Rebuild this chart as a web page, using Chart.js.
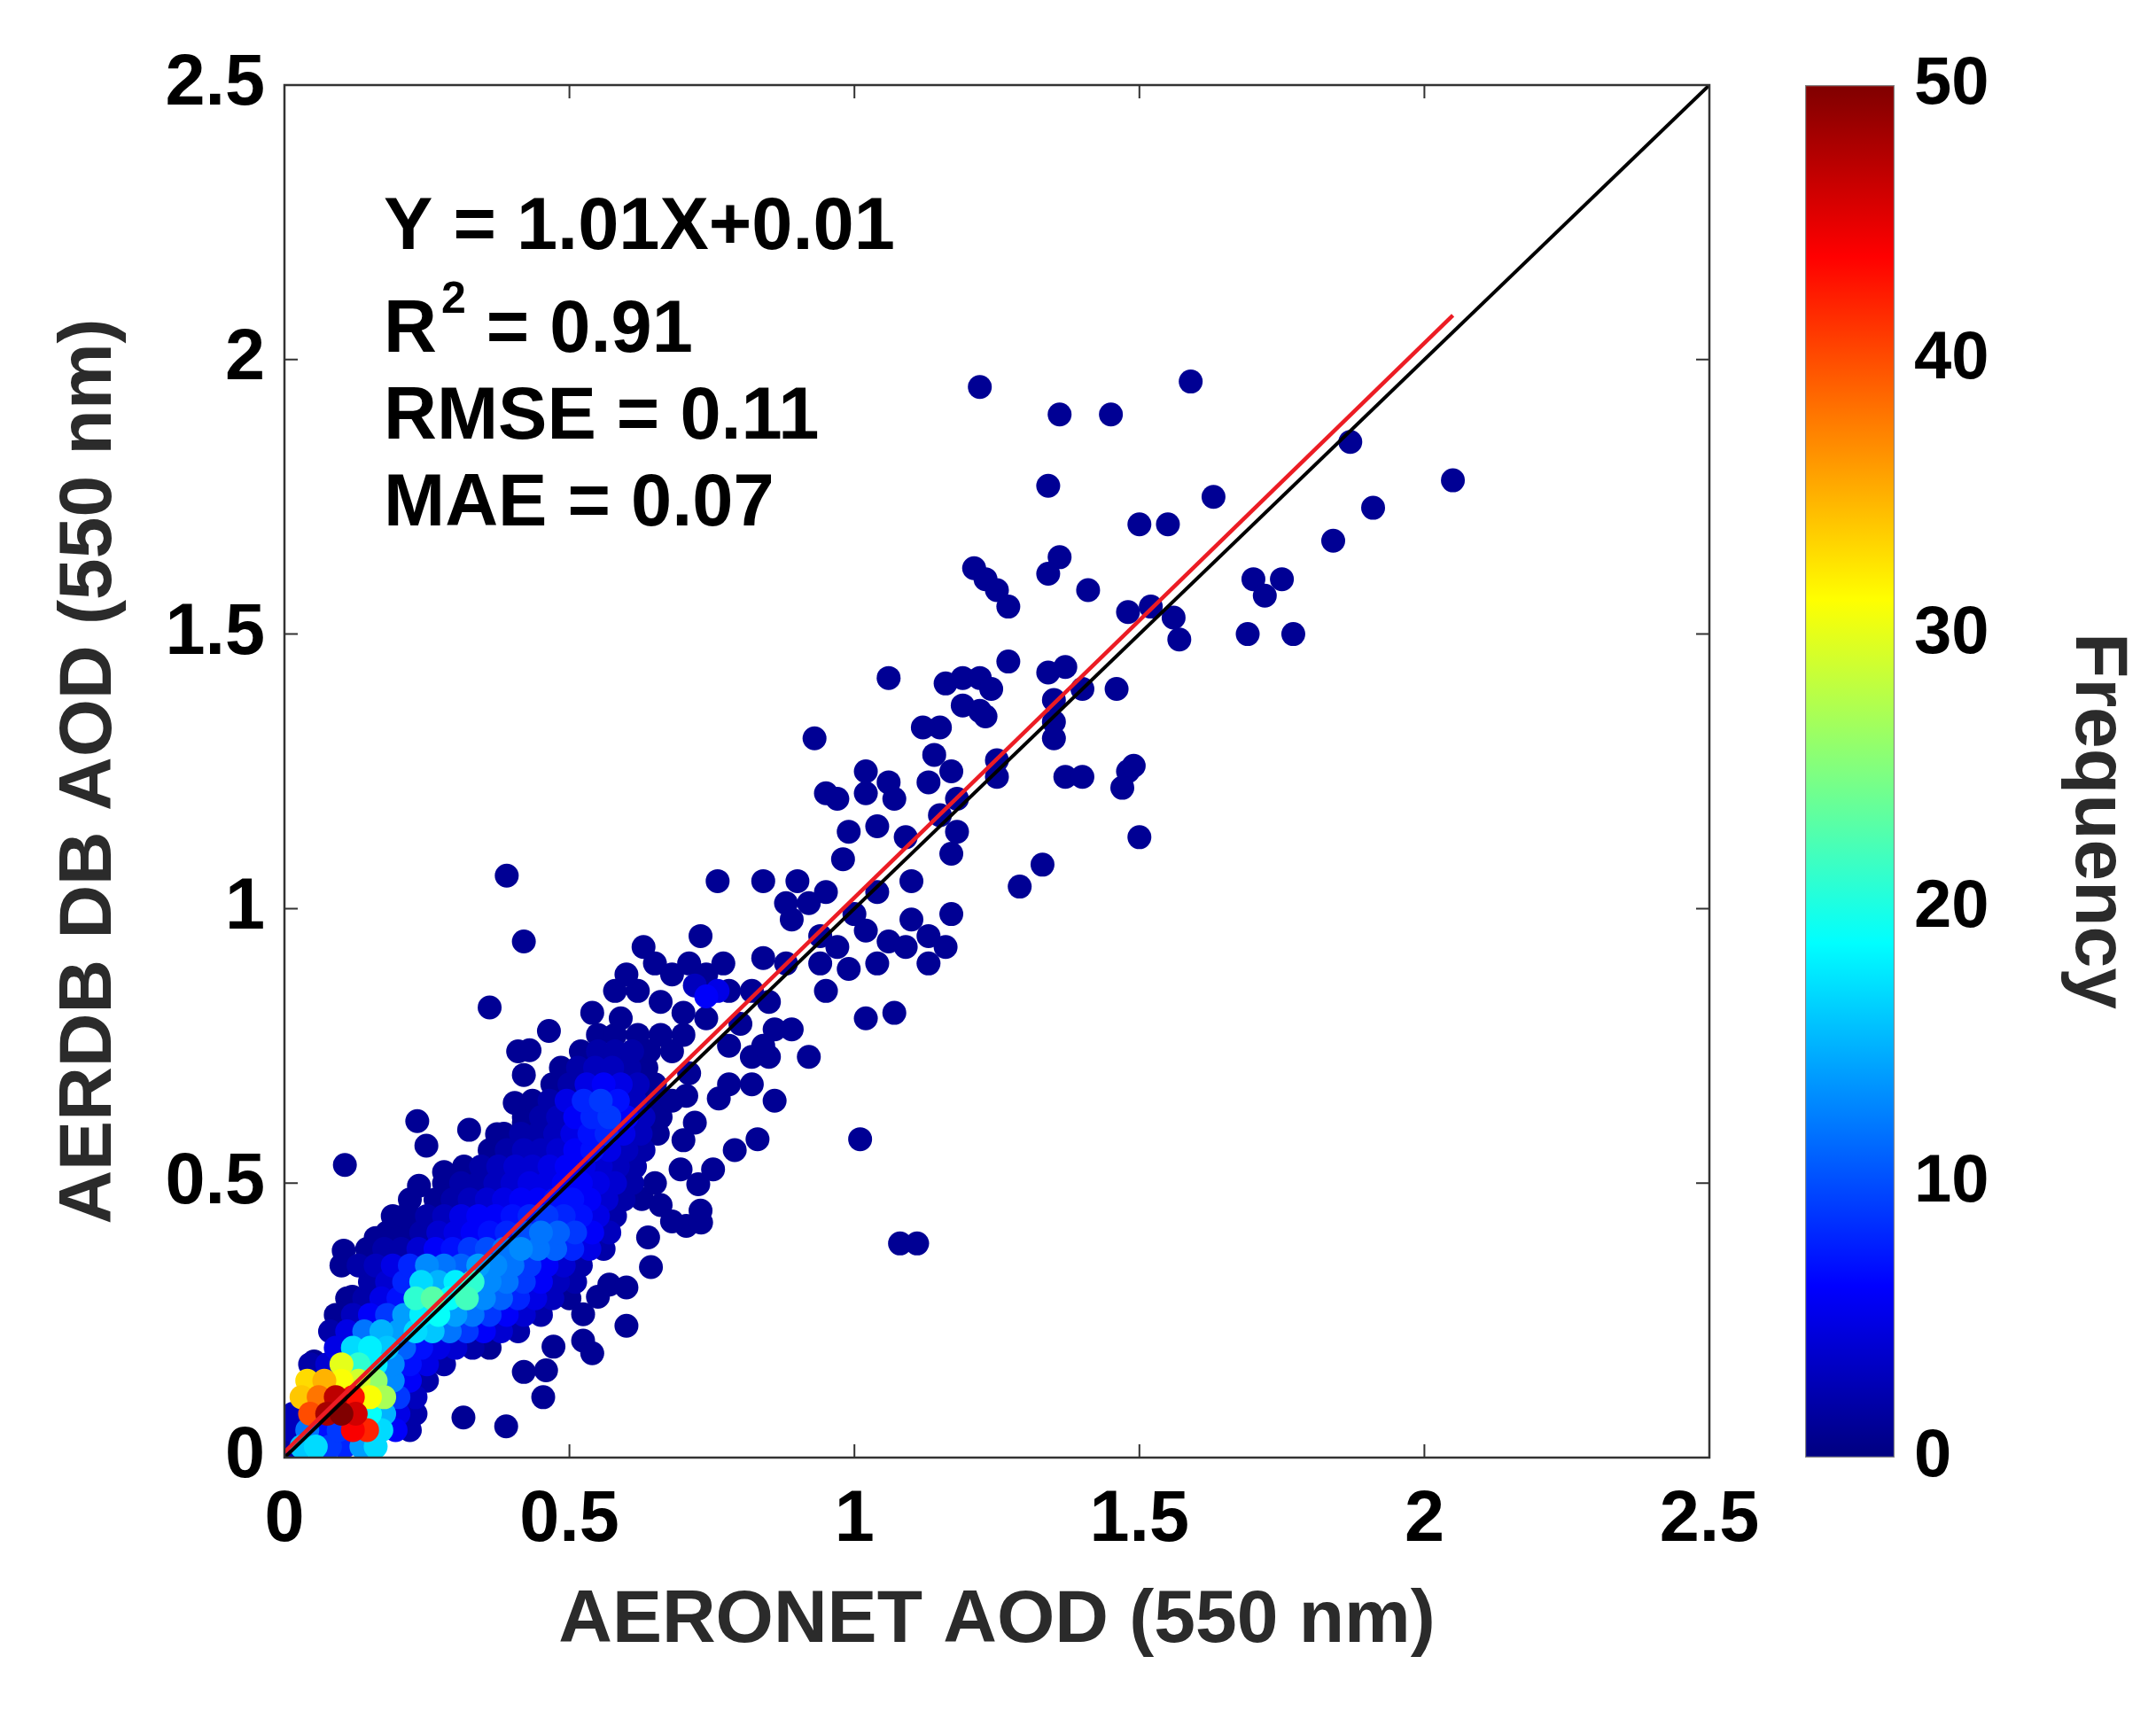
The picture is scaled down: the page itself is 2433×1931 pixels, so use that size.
<!DOCTYPE html>
<html>
<head>
<meta charset="utf-8">
<title>AERDB DB AOD vs AERONET AOD</title>
<script src="https://cdn.jsdelivr.net/npm/chart.js@4.4.1/dist/chart.umd.min.js"></script>
<style>
  html, body { margin: 0; padding: 0; background: #fff; }
  #wrap { position: relative; width: 2433px; height: 1931px; }
  #wrap canvas { position: absolute; left: 0; top: 0; }
</style>
</head>
<body>
<div id="wrap">
  <canvas id="scatterChart" width="2433" height="1931"></canvas>
  <canvas id="colorbarChart" width="2433" height="1931"></canvas>
</div>
<script>
// ---- data: [AERONET AOD, AERDB DB AOD, frequency] ----

// dense band along the 1:1 line, one row per line (bottom to top)
const coreBand = [
  [0.010, 0.02, 2], [0.030, 0.02, 16], [0.055, 0.02, 17], [0.080, 0.02, 9], [0.105, 0.02, 8], [0.135, 0.02, 14], [0.160, 0.02, 17],
  [0.012, 0.05, 3], [0.040, 0.05, 12], [0.070, 0.05, 7], [0.095, 0.05, 9], [0.120, 0.05, 44], [0.145, 0.05, 42], [0.170, 0.05, 17], [0.195, 0.05, 6], [0.220, 0.05, 2],
  [0.015, 0.08, 3], [0.045, 0.08, 40], [0.075, 0.08, 48], [0.100, 0.08, 50], [0.125, 0.08, 46], [0.150, 0.08, 19], [0.175, 0.08, 15], [0.200, 0.08, 5], [0.230, 0.08, 2],
  [0.030, 0.11, 34], [0.060, 0.11, 38], [0.090, 0.11, 47], [0.120, 0.11, 43], [0.150, 0.11, 31], [0.175, 0.11, 27], [0.200, 0.11, 9], [0.230, 0.11, 3],
  [0.040, 0.14, 33], [0.070, 0.14, 35], [0.100, 0.14, 31], [0.130, 0.14, 29], [0.160, 0.14, 26], [0.190, 0.14, 13], [0.220, 0.14, 6], [0.250, 0.14, 2],
  [0.045, 0.17, 2], [0.075, 0.17, 4], [0.100, 0.17, 30], [0.130, 0.17, 21], [0.160, 0.17, 18], [0.190, 0.17, 13], [0.220, 0.17, 7], [0.250, 0.17, 5], [0.280, 0.17, 2],
  [0.09, 0.20, 5], [0.12, 0.20, 17], [0.15, 0.20, 18], [0.18, 0.20, 16], [0.21, 0.20, 11], [0.24, 0.20, 7], [0.27, 0.20, 5], [0.30, 0.20, 4], [0.33, 0.20, 2], [0.36, 0.20, 1],
  [0.08, 0.23, 2], [0.11, 0.23, 5], [0.14, 0.23, 12], [0.17, 0.23, 15], [0.20, 0.23, 14], [0.23, 0.23, 17], [0.26, 0.23, 16], [0.29, 0.23, 12], [0.32, 0.23, 9], [0.35, 0.23, 6], [0.38, 0.23, 4], [0.41, 0.23, 2],
  [0.09, 0.26, 1], [0.12, 0.26, 3], [0.15, 0.26, 6], [0.18, 0.26, 9], [0.21, 0.26, 14], [0.24, 0.26, 18], [0.27, 0.26, 19], [0.30, 0.26, 14], [0.33, 0.26, 12], [0.36, 0.26, 9], [0.39, 0.26, 6], [0.42, 0.26, 4], [0.45, 0.26, 2],
  [0.11, 0.29, 1], [0.14, 0.29, 2], [0.17, 0.29, 5], [0.20, 0.29, 7], [0.23, 0.29, 21], [0.26, 0.29, 23], [0.29, 0.29, 19], [0.32, 0.29, 22], [0.35, 0.29, 13], [0.38, 0.29, 11], [0.41, 0.29, 8], [0.44, 0.29, 5], [0.47, 0.29, 3], [0.50, 0.29, 1],
  [0.15, 0.32, 2], [0.18, 0.32, 4], [0.21, 0.32, 8], [0.24, 0.32, 17], [0.27, 0.32, 15], [0.30, 0.32, 18], [0.33, 0.32, 21], [0.36, 0.32, 13], [0.39, 0.32, 12], [0.42, 0.32, 9], [0.45, 0.32, 6], [0.48, 0.32, 3], [0.51, 0.32, 2],
  [0.10, 0.35, 1], [0.13, 0.35, 2], [0.16, 0.35, 3], [0.19, 0.35, 5], [0.22, 0.35, 8], [0.25, 0.35, 13], [0.28, 0.35, 12], [0.31, 0.35, 11], [0.34, 0.35, 14], [0.37, 0.35, 13], [0.40, 0.35, 12], [0.43, 0.35, 9], [0.46, 0.35, 6], [0.49, 0.35, 4], [0.52, 0.35, 2],
  [0.145, 0.38, 1], [0.175, 0.38, 2], [0.205, 0.38, 2], [0.235, 0.38, 4], [0.265, 0.38, 6], [0.295, 0.38, 7], [0.325, 0.38, 9], [0.355, 0.38, 10], [0.385, 0.38, 12], [0.415, 0.38, 13], [0.445, 0.38, 12], [0.475, 0.38, 11], [0.505, 0.38, 8], [0.535, 0.38, 5], [0.56, 0.38, 2],
  [0.18, 0.41, 1], [0.21, 0.41, 1], [0.24, 0.41, 2], [0.27, 0.41, 4], [0.30, 0.41, 5], [0.33, 0.41, 6], [0.36, 0.41, 7], [0.39, 0.41, 8], [0.42, 0.41, 10], [0.45, 0.41, 12], [0.48, 0.41, 11], [0.51, 0.41, 9], [0.54, 0.41, 6], [0.57, 0.41, 3],
  [0.19, 0.44, 1], [0.22, 0.44, 1], [0.25, 0.44, 2], [0.28, 0.44, 3], [0.31, 0.44, 5], [0.34, 0.44, 6], [0.37, 0.44, 6], [0.40, 0.44, 7], [0.43, 0.44, 8], [0.46, 0.44, 9], [0.49, 0.44, 8], [0.52, 0.44, 7], [0.55, 0.44, 5], [0.58, 0.44, 2],
  [0.22, 0.47, 1], [0.265, 0.47, 1], [0.295, 0.47, 2], [0.325, 0.47, 3], [0.355, 0.47, 4], [0.385, 0.47, 5], [0.415, 0.47, 6], [0.445, 0.47, 6], [0.475, 0.47, 7], [0.505, 0.47, 7], [0.535, 0.47, 6], [0.565, 0.47, 4], [0.595, 0.47, 2],
  [0.28, 0.50, 1], [0.31, 0.50, 2], [0.34, 0.50, 2], [0.37, 0.50, 3], [0.40, 0.50, 4], [0.43, 0.50, 5], [0.46, 0.50, 5], [0.49, 0.50, 6], [0.52, 0.50, 6], [0.55, 0.50, 5], [0.58, 0.50, 4], [0.61, 0.50, 2],
  [0.315, 0.53, 1], [0.345, 0.53, 2], [0.375, 0.53, 3], [0.405, 0.53, 4], [0.435, 0.53, 4], [0.465, 0.53, 5], [0.495, 0.53, 6], [0.525, 0.53, 5], [0.555, 0.53, 4], [0.585, 0.53, 3], [0.615, 0.53, 2],
  [0.36, 0.56, 1], [0.39, 0.56, 2], [0.42, 0.56, 3], [0.45, 0.56, 3], [0.48, 0.56, 4], [0.51, 0.56, 6], [0.54, 0.56, 7], [0.57, 0.56, 5], [0.60, 0.56, 3], [0.63, 0.56, 2],
  [0.385, 0.59, 1], [0.415, 0.59, 2], [0.445, 0.59, 2], [0.475, 0.59, 3], [0.505, 0.59, 5], [0.535, 0.59, 7], [0.565, 0.59, 8], [0.595, 0.59, 5], [0.625, 0.59, 3], [0.655, 0.59, 1],
  [0.42, 0.62, 1], [0.45, 0.62, 2], [0.48, 0.62, 3], [0.51, 0.62, 6], [0.54, 0.62, 8], [0.57, 0.62, 9], [0.60, 0.62, 6], [0.63, 0.62, 3], [0.66, 0.62, 1],
  [0.435, 0.65, 1], [0.465, 0.65, 2], [0.495, 0.65, 5], [0.525, 0.65, 8], [0.555, 0.65, 9], [0.585, 0.65, 7], [0.615, 0.65, 3], [0.645, 0.65, 1],
  [0.47, 0.68, 1], [0.50, 0.68, 2], [0.53, 0.68, 5], [0.56, 0.68, 6], [0.59, 0.68, 5], [0.62, 0.68, 3], [0.65, 0.68, 1],
  [0.485, 0.71, 1], [0.515, 0.71, 2], [0.545, 0.71, 3], [0.575, 0.71, 3], [0.605, 0.71, 2], [0.635, 0.71, 1],
  [0.52, 0.74, 1], [0.55, 0.74, 2], [0.58, 0.74, 2], [0.61, 0.74, 2], [0.64, 0.74, 1], [0.68, 0.74, 1],
  [0.55, 0.77, 1], [0.58, 0.77, 1], [0.62, 0.77, 1], [0.66, 0.77, 1], [0.70, 0.77, 1]
];

// scattered points above the band (DB overestimates)
const upperLeftScatter = [
  [0.106, 0.533, 1], [0.104, 0.377, 1], [0.119, 0.293, 1], [0.093, 0.250, 1], [0.052, 0.175, 1],
  [0.233, 0.613, 1], [0.249, 0.568, 1], [0.236, 0.495, 1], [0.280, 0.520, 1], [0.324, 0.597, 1],
  [0.373, 0.589, 1], [0.404, 0.646, 1], [0.420, 0.697, 1], [0.430, 0.742, 1], [0.464, 0.777, 1],
  [0.210, 0.440, 1], [0.160, 0.400, 1], [0.140, 0.350, 1], [0.420, 0.610, 1], [0.410, 0.740, 1],
  [0.390, 1.060, 1], [0.420, 0.940, 1], [0.360, 0.820, 1],
  [0.54, 0.81, 1], [0.59, 0.80, 1], [0.62, 0.85, 1], [0.65, 0.90, 1], [0.68, 0.88, 1], [0.71, 0.90, 1],
  [0.73, 0.95, 1], [0.66, 0.83, 1], [0.70, 0.81, 1], [0.74, 0.80, 1], [0.60, 0.88, 1], [0.58, 0.85, 1],
  [0.63, 0.93, 1], [0.72, 0.86, 3], [0.74, 0.84, 6], [0.76, 0.85, 5]
];

// scattered points below the band (DB underestimates)
const lowerRightScatter = [
  [0.213, 0.062, 1], [0.314, 0.073, 1], [0.389, 0.057, 1], [0.420, 0.156, 1], [0.459, 0.159, 1],
  [0.454, 0.110, 1], [0.472, 0.202, 1], [0.524, 0.213, 1], [0.524, 0.261, 1], [0.550, 0.293, 1],
  [0.570, 0.315, 1], [0.600, 0.310, 1], [0.643, 0.347, 1], [0.638, 0.401, 1], [0.705, 0.422, 1],
  [0.731, 0.428, 1], [0.627, 0.471, 1], [0.695, 0.525, 1], [0.726, 0.498, 1], [0.752, 0.525, 1],
  [0.762, 0.654, 1], [0.705, 0.659, 1], [0.700, 0.578, 1], [0.650, 0.500, 1], [0.660, 0.460, 1],
  [0.540, 0.190, 1], [0.600, 0.240, 1], [0.680, 0.430, 1], [0.730, 0.450, 1], [0.720, 0.610, 1],
  [0.86, 0.65, 1], [0.82, 0.68, 1], [0.78, 0.68, 1], [0.79, 0.56, 1], [0.83, 0.58, 1],
  [0.68, 0.65, 1], [0.71, 0.70, 1], [1.08, 0.39, 1], [1.11, 0.39, 1], [1.01, 0.58, 1],
  [0.92, 0.73, 1], [0.85, 0.73, 1], [0.82, 0.73, 1], [0.78, 0.75, 1], [0.84, 0.75, 1],
  [0.86, 0.78, 1], [0.89, 0.78, 1], [0.80, 0.79, 1], [0.82, 0.85, 1], [0.85, 0.83, 1],
  [0.77, 0.90, 1], [0.74, 0.88, 1], [0.78, 0.85, 1]
];

// sparse points at high aerosol loading
const highAodScatter = [
  [1.22, 1.95, 1], [1.59, 1.96, 1], [1.36, 1.90, 1], [1.45, 1.90, 1], [1.87, 1.85, 1], [2.05, 1.78, 1],
  [1.34, 1.77, 1], [1.63, 1.75, 1], [1.91, 1.73, 1], [1.84, 1.67, 1], [1.50, 1.70, 1], [1.55, 1.70, 1],
  [1.21, 1.62, 1], [1.23, 1.60, 1], [1.25, 1.58, 1], [1.27, 1.55, 1], [1.36, 1.64, 1], [1.34, 1.61, 1],
  [1.41, 1.58, 1], [1.70, 1.60, 1], [1.72, 1.57, 1], [1.75, 1.60, 1], [1.69, 1.50, 1], [1.77, 1.50, 1],
  [1.56, 1.53, 1], [1.57, 1.49, 1], [1.48, 1.54, 1], [1.52, 1.55, 1],
  [1.27, 1.45, 1], [1.34, 1.43, 1], [1.37, 1.44, 1], [1.40, 1.40, 1], [1.46, 1.40, 1], [1.35, 1.38, 1],
  [1.35, 1.34, 1], [1.35, 1.31, 1], [1.19, 1.42, 1], [1.22, 1.42, 1], [1.24, 1.40, 1], [1.16, 1.41, 1],
  [1.19, 1.37, 1], [1.22, 1.36, 1], [1.15, 1.33, 1], [1.12, 1.33, 1], [1.06, 1.42, 1], [1.48, 1.25, 1],
  [1.49, 1.26, 1], [1.47, 1.22, 1], [1.37, 1.24, 1], [1.40, 1.24, 1], [1.50, 1.13, 1], [1.33, 1.08, 1],
  [1.29, 1.04, 1],
  [0.93, 1.31, 1], [0.95, 1.21, 1], [0.97, 1.20, 1], [0.99, 1.14, 1], [1.02, 1.25, 1], [1.02, 1.21, 1],
  [1.04, 1.15, 1], [1.06, 1.23, 1], [1.07, 1.20, 1], [1.09, 1.13, 1], [1.14, 1.28, 1], [1.17, 1.25, 1],
  [1.13, 1.23, 1], [1.18, 1.20, 1], [1.15, 1.17, 1], [1.18, 1.14, 1], [1.23, 1.35, 1], [1.25, 1.27, 1],
  [1.17, 1.10, 1], [1.10, 1.05, 1], [1.04, 1.03, 1], [0.98, 1.09, 1], [1.25, 1.24, 1],
  [0.76, 1.05, 1], [0.84, 1.05, 1], [0.90, 1.05, 1], [0.92, 1.01, 1], [0.95, 1.03, 1], [0.88, 1.01, 1],
  [0.89, 0.98, 1], [0.94, 0.95, 1], [0.97, 0.93, 1], [0.99, 0.89, 1], [1.00, 0.99, 1], [1.02, 0.96, 1],
  [1.06, 0.94, 1], [1.04, 0.90, 1], [1.09, 0.93, 1], [1.13, 0.95, 1], [1.10, 0.98, 1], [1.17, 0.99, 1],
  [1.13, 0.90, 1], [1.16, 0.93, 1], [1.02, 0.80, 1], [1.07, 0.81, 1], [0.94, 0.90, 1], [0.88, 0.90, 1],
  [0.84, 0.91, 1], [0.95, 0.85, 1]
];

const axisTicks = [0, 0.5, 1, 1.5, 2, 2.5];
const colorbarTicks = [0, 10, 20, 30, 40, 50];
const colorbarLabel = 'Frequency';

// regression statistics printed on the figure
const fitSlope = 1.01;
const fitIntercept = 0.01;
const fitEndX = 2.05;
const rSquared = 0.91;
const rmse = 0.11;
const mae = 0.07;

// ---- styling ----
const FONT = '"Liberation Sans", Arial, Helvetica, sans-serif';
const FREQ_MAX = colorbarTicks[colorbarTicks.length - 1];
const TICK_LEN = 15;
Chart.defaults.font.family = FONT;

// MATLAB jet colormap, t in [0, 1]
function jet(t) {
  const c = v => Math.round(255 * Math.max(0, Math.min(1, v)));
  return `rgb(${c(1.5 - Math.abs(4 * t - 3))},${c(1.5 - Math.abs(4 * t - 2))},${c(1.5 - Math.abs(4 * t - 1))})`;
}

function jetGradient(chart) {
  const area = chart.chartArea;
  if (!area) return jet(0);
  const g = chart.ctx.createLinearGradient(0, area.bottom, 0, area.top);
  for (let i = 0; i <= 64; i++) g.addColorStop(i / 64, jet(i / 64));
  return g;
}

// draw low frequencies first so dense cells end up on top
const points = [...coreBand, ...upperLeftScatter, ...lowerRightScatter, ...highAodScatter]
  .slice().sort((a, b) => a[2] - b[2]);

const noClip = { left: 0, top: 0, right: 0, bottom: 0 };

// closed box with inward ticks on all four sides
const axesBox = {
  id: 'axesBox',
  afterDatasetsDraw(chart) {
    const { ctx, chartArea: { left, right, top, bottom }, scales: { x, y } } = chart;
    ctx.save();
    ctx.strokeStyle = '#333';
    ctx.lineWidth = 2.5;
    ctx.strokeRect(left, top, right - left, bottom - top);
    ctx.beginPath();
    axisTicks.forEach(v => {
      const px = x.getPixelForValue(v);
      ctx.moveTo(px, bottom); ctx.lineTo(px, bottom - TICK_LEN);
      ctx.moveTo(px, top); ctx.lineTo(px, top + TICK_LEN);
      const py = y.getPixelForValue(v);
      ctx.moveTo(left, py); ctx.lineTo(left + TICK_LEN, py);
      ctx.moveTo(right, py); ctx.lineTo(right - TICK_LEN, py);
    });
    ctx.lineWidth = 2;
    ctx.stroke();
    ctx.restore();
  }
};

// regression text in the upper-left corner
const statsText = {
  id: 'statsText',
  afterDraw(chart) {
    const { ctx, chartArea } = chart;
    const x0 = chartArea.left + 112;
    const t = chartArea.top;
    ctx.save();
    ctx.fillStyle = '#000';
    ctx.textAlign = 'left';
    ctx.textBaseline = 'alphabetic';
    ctx.font = `bold 83px ${FONT}`;
    ctx.fillText(`Y = ${fitSlope.toFixed(2)}X+${fitIntercept.toFixed(2)}`, x0, t + 185);
    ctx.fillText('R', x0, t + 301);
    const rw = ctx.measureText('R').width;
    ctx.font = `bold 50px ${FONT}`;
    ctx.fillText('2', x0 + rw + 5, t + 257);
    const sw = ctx.measureText('2').width;
    ctx.font = `bold 83px ${FONT}`;
    ctx.fillText(` = ${rSquared.toFixed(2)}`, x0 + rw + sw + 5, t + 301);
    ctx.fillText(`RMSE = ${rmse.toFixed(2)}`, x0, t + 399);
    ctx.fillText(`MAE = ${mae.toFixed(2)}`, x0, t + 497);
    ctx.restore();
  }
};

// colour-bar label, rotated to read top to bottom, sitting a little below centre as in the figure
const colorbarTitle = {
  id: 'colorbarTitle',
  afterDraw(chart) {
    const { ctx, chartArea } = chart;
    const yScale = chart.scales.y;
    ctx.save();
    ctx.translate(yScale.right - 67, (chartArea.top + chartArea.bottom) / 2 + 56);
    ctx.rotate(Math.PI / 2);
    ctx.fillStyle = '#2b2b2b';
    ctx.font = `bold 84px ${FONT}`;
    ctx.textAlign = 'center';
    ctx.textBaseline = 'middle';
    ctx.fillText(colorbarLabel, 0, 0);
    ctx.restore();
  }
};

const tickFont = { size: 81, weight: 'bold' };
const titleFont = { size: 84, weight: 'bold' };

new Chart(document.getElementById('scatterChart'), {
  type: 'scatter',
  data: {
    datasets: [
      {
        label: 'Fit',
        data: [
          { x: 0, y: fitIntercept },
          { x: fitEndX, y: fitSlope * fitEndX + fitIntercept }
        ],
        showLine: true,
        borderColor: '#ec1c24',
        borderWidth: 4.5,
        pointRadius: 0,
        clip: noClip,
        order: 0
      },
      {
        label: '1:1',
        data: [{ x: 0, y: 0 }, { x: 2.5, y: 2.5 }],
        showLine: true,
        borderColor: '#000',
        borderWidth: 4,
        pointRadius: 0,
        clip: noClip,
        order: 1
      },
      {
        label: 'AOD',
        data: points.map(([x, y]) => ({ x, y })),
        backgroundColor: points.map(p => jet(p[2] / FREQ_MAX)),
        borderWidth: 0,
        pointRadius: 13.5,
        pointHoverRadius: 13.5,
        clip: noClip,
        order: 2
      }
    ]
  },
  options: {
    responsive: false,
    animation: false,
    events: [],
    layout: { padding: { left: 0, top: 96, right: 504, bottom: 0 } },
    plugins: { legend: { display: false }, tooltip: { enabled: false } },
    scales: {
      x: {
        type: 'linear', min: 0, max: 2.5,
        afterBuildTicks: s => { s.ticks = axisTicks.map(v => ({ value: v })); },
        ticks: { callback: v => String(v), font: tickFont, color: '#000', padding: 23, maxRotation: 0, autoSkip: false },
        grid: { display: false, drawTicks: false },
        border: { display: false },
        title: { display: true, text: 'AERONET AOD (550 nm)', font: titleFont, color: '#2b2b2b', padding: { top: 0, bottom: 51 } },
        afterFit: s => { s.height = 286; }
      },
      y: {
        type: 'linear', min: 0, max: 2.5,
        afterBuildTicks: s => { s.ticks = axisTicks.map(v => ({ value: v })); },
        ticks: { callback: v => String(v), font: tickFont, color: '#000', padding: 22, autoSkip: false },
        grid: { display: false, drawTicks: false },
        border: { display: false },
        title: { display: true, text: 'AERDB DB AOD (550 nm)', font: titleFont, color: '#2b2b2b', padding: { top: 51, bottom: 0 } },
        afterFit: s => { s.width = 321; }
      }
    }
  },
  plugins: [axesBox, statsText]
});

// colour bar: one full-height bar filled with the jet gradient
new Chart(document.getElementById('colorbarChart'), {
  type: 'bar',
  data: {
    labels: [colorbarLabel],
    datasets: [{
      data: [FREQ_MAX],
      backgroundColor: ctx => jetGradient(ctx.chart),
      borderColor: 'rgba(50,50,50,0.6)',
      borderWidth: 1.5,
      borderSkipped: false,
      barPercentage: 1,
      categoryPercentage: 1
    }]
  },
  options: {
    responsive: false,
    animation: false,
    events: [],
    layout: { padding: { left: 2037, top: 96, right: 0, bottom: 286 } },
    plugins: { legend: { display: false }, tooltip: { enabled: false } },
    scales: {
      x: { display: false },
      y: {
        position: 'right', min: 0, max: FREQ_MAX,
        afterBuildTicks: s => { s.ticks = colorbarTicks.map(v => ({ value: v })); },
        ticks: { font: { size: 76, weight: 'bold' }, color: '#000', padding: 22 },
        grid: { display: false, drawTicks: false },
        border: { display: false },
        afterFit: s => { s.width = 295; }
      }
    }
  },
  plugins: [colorbarTitle]
});
</script>
</body>
</html>
